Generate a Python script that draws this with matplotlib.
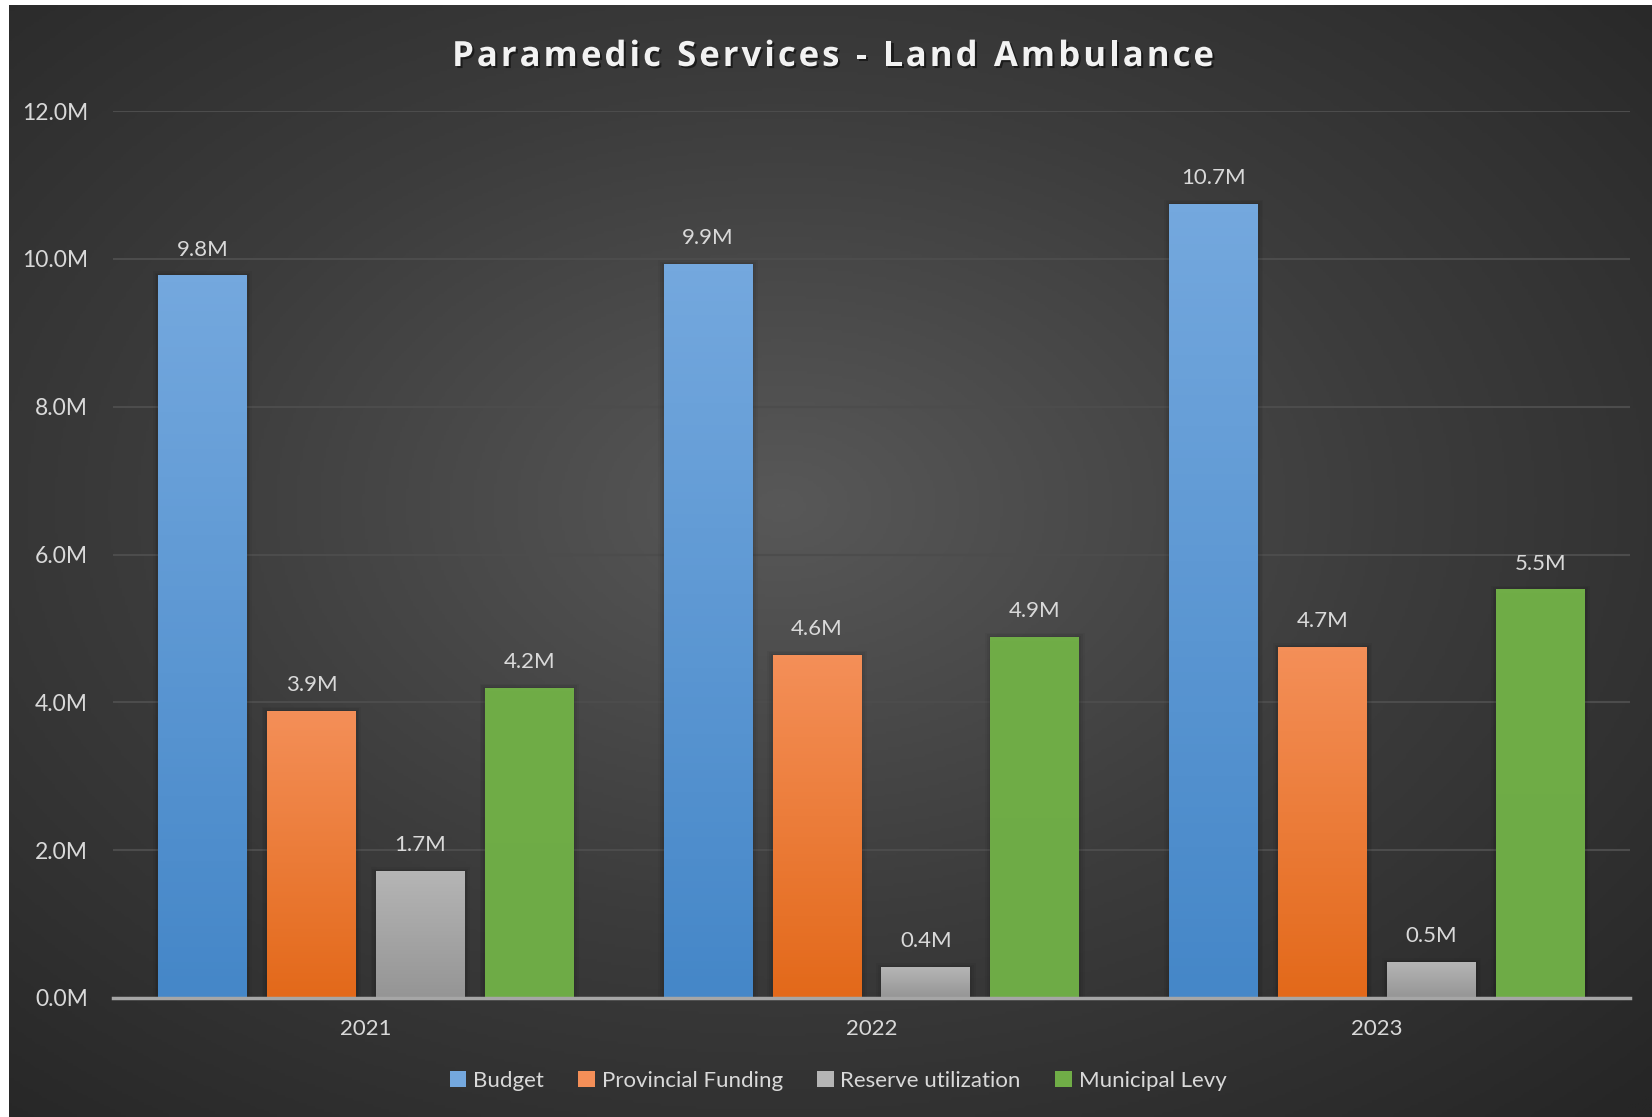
import numpy as np
import matplotlib
matplotlib.use('Agg')
import matplotlib.pyplot as plt
import matplotlib.patheffects as pe
from matplotlib.colors import LinearSegmentedColormap

#Data section ------------------------------
years = ['2021', '2022', '2023']
series = ['Budget', 'Provincial Funding', 'Reserve utilization', 'Municipal Levy']
budget = [9.77, 9.92, 10.74]
provincial = [3.88, 4.64, 4.74]
reserve = [1.71, 0.41, 0.48]
levy = [4.19, 4.88, 5.52]
yticks = [0, 2, 4, 6, 8, 10, 12]
title = 'Paramedic Services - Land Ambulance'

# top / bottom colours of each bar gradient
grad = [('#74a8de', '#4587c8'),
        ('#f48f58', '#e3691a'),
        ('#b5b5b5', '#959595'),
        ('#70ad47', '#6eab46')]

W, H = 1652, 1117
fig = plt.figure(figsize=(W / 100, H / 100), dpi=100, facecolor='white')

# dark radial background
bg = fig.add_axes([9 / W, 0, 1 - 9 / W, 1 - 5 / H])
yy, xx = np.mgrid[0:1:400j, 0:1:600j]
r = np.sqrt(((xx - 0.47) / 0.75) ** 2 + ((yy - 0.45) / 0.75) ** 2)
r = np.clip(r, 0, 1)
bgcmap = LinearSegmentedColormap.from_list('bg', ['#585858', '#3c3c3c', '#262626'])
bg.imshow(r, cmap=bgcmap, aspect='auto', extent=[0, 1, 0, 1], vmin=0, vmax=1)
bg.set_axis_off()

ax = fig.add_axes([113 / W, 1 - 998 / H, (1630 - 113) / W, (998 - 111) / H])
ax.patch.set_alpha(0)

lbl_font = 'Lato'
tc = '#d9d9d9'
fs = 16

x = np.arange(len(years))
bw = 0.176
step = 0.2155
vals = [budget, provincial, reserve, levy]
for i, (name, v) in enumerate(zip(series, vals)):
    pos = x + (i - 1.5) * step
    bars = ax.bar(pos, v, bw, color=grad[i][0], label=name, zorder=3)
    cm = LinearSegmentedColormap.from_list('g%d' % i, [grad[i][1], grad[i][0]])
    for b, val in zip(bars, v):
        x0, w, h = b.get_x(), b.get_width(), b.get_height()
        # soft shadow
        for k, a in [(0.03, 0.04), (0.02, 0.05), (0.01, 0.06)]:
            ax.add_patch(plt.Rectangle((x0 - k / 3, 0), w + 2 * k / 3, h + k * 2, color='black',
                                       alpha=a, zorder=2, lw=0))
        ax.imshow(np.linspace(0, 1, 100).reshape(-1, 1), cmap=cm, origin='lower',
                  extent=[x0, x0 + w, 0, h], aspect='auto', zorder=3.5)
        ax.text(x0 + w / 2, h + 0.22, '{:.1f}M'.format(val), ha='center', va='bottom',
                color=tc, fontsize=fs, family=lbl_font)

ax.set_xlim(-0.5, 2.5)
ax.set_ylim(0, 12)
ax.set_yticks(yticks)
ax.set_yticklabels(['{:.1f}M'.format(t) for t in yticks], color=tc, fontsize=16.5, family=lbl_font)
ax.set_xticks(x)
ax.set_xticklabels(years, color=tc, fontsize=fs, family=lbl_font)
ax.tick_params(axis='y', length=0, pad=18)
ax.tick_params(axis='x', length=0, pad=15)
for s in ['top', 'right', 'left']:
    ax.spines[s].set_visible(False)
ax.spines['bottom'].set_color('#a6a6a6')
ax.spines['bottom'].set_linewidth(2.5)
ax.spines['bottom'].set_zorder(5)
ax.grid(axis='y', color='#4c4c4c', lw=1.5, zorder=0)
ax.set_axisbelow(True)

leg = fig.legend(loc='center', bbox_to_anchor=(838 / W, 1 - 1081 / H), ncol=4, frameon=False,
                 prop={'family': lbl_font, 'size': fs}, handlelength=0.75, handleheight=0.75,
                 handletextpad=0.3, columnspacing=1.55)
for t in leg.get_texts():
    t.set_color(tc)

# title with letter spacing, drawn char by char
renderer = fig.canvas.get_renderer()
tkw = dict(color='#f2f2f2', fontsize=25, fontweight='bold', family='Open Sans', va='center',
           path_effects=[pe.withSimplePatchShadow(offset=(1.5, -1.5), shadow_rgbFace='black', alpha=0.5)])
spacing = 3.0
widths = []
for ch in title:
    t = fig.text(0, 0, ch if ch != ' ' else 'n', **tkw)
    wch = t.get_window_extent(renderer).width
    if ch == ' ':
        wch *= 0.45
    widths.append(wch)
    t.remove()
total = sum(widths) + spacing * (len(title) - 1)
xpos = 833 - total / 2
for ch, wch in zip(title, widths):
    if ch != ' ':
        fig.text(xpos / W, 1 - 57 / H, ch, ha='left', **tkw)
    xpos += wch + spacing

plt.savefig('out.png', dpi=100, facecolor='white')
